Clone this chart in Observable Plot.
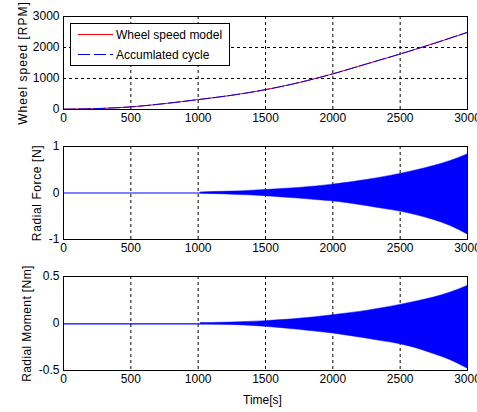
<!DOCTYPE html>
<html>
<head>
<meta charset="utf-8">
<script src="https://cdn.jsdelivr.net/npm/d3@7"></script>
<script src="https://cdn.jsdelivr.net/npm/@observablehq/plot@0.6"></script>
<style>
  html, body { margin: 0; padding: 0; background: #fff; }
  #wrap { position: relative; width: 477px; height: 412px; overflow: hidden; background: #fff;
          font-family: "Liberation Sans", Arial, sans-serif; }
  .pane { position: absolute; left: 0; }
  #legend { position: absolute; left: 70px; top: 23px; width: 160px; height: 43px;
            box-sizing: border-box; border: 1px solid #000; background: #fff; }
</style>
</head>
<body>
<div id="wrap">
  <div class="pane" id="p1" style="top:0px"></div>
  <div class="pane" id="p2" style="top:130px"></div>
  <div class="pane" id="p3" style="top:260px"></div>
  <div id="legend"></div>
</div>
<script>
// ---- data ----
const xTicks = [0, 500, 1000, 1500, 2000, 2500, 3000];

const speedTime = [0, 250, 500, 750, 1000, 1250, 1500, 1750, 2000, 2250, 2500, 2750, 3000];
const speedModel = [10, 30, 85, 190, 320, 460, 640, 870, 1150, 1470, 1790, 2130, 2490];
const accumCycle = [10, 30, 85, 190, 320, 460, 640, 870, 1150, 1470, 1790, 2130, 2490];
const speedTicks = [0, 1000, 2000, 3000];

const envTime = [1020, 1100, 1250, 1375, 1500, 1625, 1750, 1875, 2000, 2125, 2250, 2375, 2500, 2625, 2750, 2875, 3000];
const forceHi = [0.012, 0.02, 0.03, 0.045, 0.065, 0.085, 0.11, 0.14, 0.18, 0.225, 0.28, 0.34, 0.41, 0.49, 0.58, 0.69, 0.83];
const forceLo = [-0.012, -0.02, -0.035, -0.05, -0.07, -0.095, -0.12, -0.15, -0.18, -0.225, -0.28, -0.34, -0.40, -0.48, -0.58, -0.71, -0.89];
const forceTicks = [-1, 0, 1];

const momentHi = [0.004, 0.006, 0.01, 0.017, 0.025, 0.036, 0.05, 0.067, 0.088, 0.11, 0.134, 0.164, 0.198, 0.235, 0.276, 0.33, 0.40];
const momentLo = [-0.004, -0.007, -0.014, -0.024, -0.035, -0.05, -0.067, -0.086, -0.106, -0.132, -0.16, -0.19, -0.22, -0.265, -0.325, -0.39, -0.48];
const momentTicks = [-0.5, 0, 0.5];

const labels = {
  speed: "Wheel speed [RPM]",
  force: "Radial Force [N]",
  moment: "Radial Moment [Nm]",
  time: "Time[s]",
  model: "Wheel speed model",
  accum: "Accumlated cycle"
};

// ---- helpers ----
const FONT = '"Liberation Sans", Arial, sans-serif';
const BLUE = "#0000ff";
const RED = "#ff0000";
const fmt = d => String(d);

function basePlot({height, marginBottom, yDomain, yTicks, yGrid, ylabel, labelDx, spacing, marks, xlabel}) {
  const m = [
    Plot.gridX(xTicks, {stroke: "#000", strokeOpacity: 1, strokeDasharray: "3,3", strokeWidth: 1}),
    Plot.gridY(yGrid, {stroke: "#000", strokeOpacity: 1, strokeDasharray: "3,3", strokeWidth: 1}),
    ...marks,
    Plot.frame({stroke: "#000", strokeWidth: 1}),
    Plot.axisX(xTicks, {tickSize: 0, tickPadding: 4, tickFormat: fmt, label: null, fontSize: 12}),
    Plot.axisY(yTicks, {tickSize: 0, tickPadding: 4, tickFormat: fmt, label: null, fontSize: 12}),
    Plot.text([ylabel], {frameAnchor: "left", dx: labelDx, rotate: -90, fontSize: 12, fill: "#000", textAnchor: "middle"})
  ];
  if (xlabel) {
    m.push(Plot.text([xlabel], {frameAnchor: "bottom", dx: -3, dy: 30, fontSize: 12, fill: "#000", lineAnchor: "middle"}));
  }
  const svg = Plot.plot({
    width: 477,
    height,
    marginLeft: 63,
    marginRight: 10,
    marginTop: 16,
    marginBottom,
    x: {domain: [0, 3000]},
    y: {domain: yDomain},
    style: {fontFamily: FONT, fontSize: "12px", color: "#000", background: "transparent", overflow: "visible"},
    marks: m
  });
  // MATLAB-like wide spacing on the rotated y label
  svg.querySelectorAll("text").forEach(t => {
    if (t.textContent === ylabel) t.style.letterSpacing = spacing + "px";
  });
  return svg;
}

// ---- panel 1: wheel speed ----
const speedRows = speedTime.map((t, i) => ({t, model: speedModel[i], accum: accumCycle[i]}));
document.getElementById("p1").append(basePlot({
  height: 130, marginBottom: 21, yDomain: [0, 3000], yTicks: speedTicks, yGrid: [1000, 2000],
  ylabel: labels.speed, labelDx: -40, spacing: 1,
  marks: [
    Plot.lineY(speedRows, {x: "t", y: "model", stroke: RED, strokeWidth: 1, curve: "monotone-x"}),
    Plot.lineY(speedRows, {x: "t", y: "accum", stroke: BLUE, strokeWidth: 1, strokeDasharray: "12,3", curve: "monotone-x"})
  ]
}));

// ---- panel 2: radial force ----
const forceRows = envTime.map((t, i) => ({t, lo: forceLo[i], hi: forceHi[i]}));
document.getElementById("p2").append(basePlot({
  height: 130, marginBottom: 21, yDomain: [-1, 1], yTicks: forceTicks, yGrid: [],
  ylabel: labels.force, labelDx: -26, spacing: 0.6,
  marks: [
    Plot.ruleY([0], {stroke: BLUE, strokeWidth: 1.2}),
    Plot.areaY(forceRows, {x: "t", y1: "lo", y2: "hi", fill: BLUE, stroke: BLUE, strokeWidth: 0.5, curve: "monotone-x"})
  ]
}));

// ---- panel 3: radial moment ----
const momentRows = envTime.map((t, i) => ({t, lo: momentLo[i], hi: momentHi[i]}));
document.getElementById("p3").append(basePlot({
  height: 152, marginBottom: 42, yDomain: [-0.5, 0.5], yTicks: momentTicks, yGrid: [],
  ylabel: labels.moment, labelDx: -36, spacing: 0.4, xlabel: labels.time,
  marks: [
    Plot.ruleY([0], {stroke: BLUE, strokeWidth: 1.2, dy: 0.3}),
    Plot.areaY(momentRows, {x: "t", y1: "lo", y2: "hi", fill: BLUE, stroke: BLUE, strokeWidth: 0.5, curve: "monotone-x"})
  ]
}));

// ---- legend ----
const NS = "http://www.w3.org/2000/svg";
const lsvg = document.createElementNS(NS, "svg");
lsvg.setAttribute("width", "158");
lsvg.setAttribute("height", "41");
lsvg.style.display = "block";
const items = [
  {text: labels.model, color: RED, dash: null, y: 10.5},
  {text: labels.accum, color: BLUE, dash: "12,4", y: 30.5}
];
for (const it of items) {
  const ln = document.createElementNS(NS, "line");
  ln.setAttribute("x1", 7); ln.setAttribute("x2", 42);
  ln.setAttribute("y1", it.y); ln.setAttribute("y2", it.y);
  ln.setAttribute("stroke", it.color); ln.setAttribute("stroke-width", 1);
  if (it.dash) ln.setAttribute("stroke-dasharray", it.dash);
  lsvg.append(ln);
  const tx = document.createElementNS(NS, "text");
  tx.setAttribute("x", 45); tx.setAttribute("y", it.y);
  tx.setAttribute("dy", "0.35em");
  tx.setAttribute("font-family", FONT);
  tx.setAttribute("font-size", 12);
  tx.textContent = it.text;
  lsvg.append(tx);
}
document.getElementById("legend").append(lsvg);
</script>
</body>
</html>
